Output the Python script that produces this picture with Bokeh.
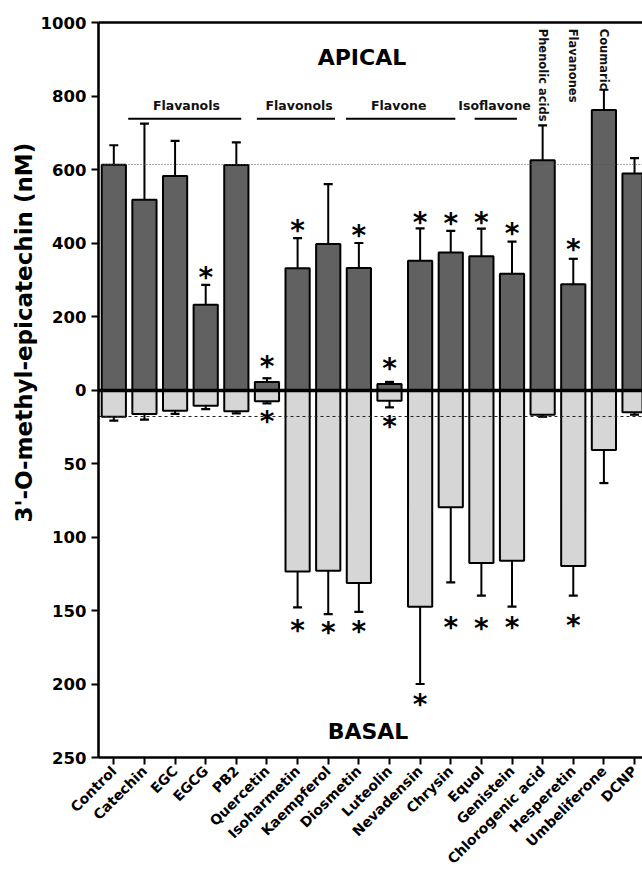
from math import pi
from bokeh.plotting import figure
from bokeh.models import Range1d, FixedTicker, Title, LinearAxis
from bokeh.core.properties import value
from bokeh.embed import file_html
from bokeh.resources import INLINE

# ---------------- data ----------------
categories = ["Control", "Catechin", "EGC", "EGCG", "PB2", "Quercetin", "Isoharmetin",
              "Kaempferol", "Diosmetin", "Luteolin", "Nevadensin", "Chrysin", "Equol",
              "Genistein", "Chlorogenic acid", "Hesperetin", "Umbeliferone", "DCNP"]
apical = [613, 518, 582, 232, 612, 22, 331, 397, 332, 16, 352, 374, 364, 316, 625, 288, 762, 589]
apical_err = [53, 207, 96, 54, 62, 10, 82, 163, 68, 6, 88, 59, 75, 88, 95, 69, 55, 42]
basal = [18.2, 16.3, 14.1, 10.7, 14.5, 7.7, 123.4, 122.9, 131.3, 7.3, 147.4, 79.8, 117.7,
         116.1, 16.8, 119.7, 40.8, 15.2]
basal_err = [2.7, 3.9, 2.2, 2.3, 1.4, 1.4, 24.5, 29.5, 19.7, 4.5, 52.6, 51.1, 22.2, 31.3,
             1.4, 20.2, 22.5, 1.6]

apical_star_cats = ["EGCG", "Quercetin", "Isoharmetin", "Diosmetin", "Luteolin", "Nevadensin",
                    "Chrysin", "Equol", "Genistein", "Hesperetin"]
apical_star_y = [314, 71, 442, 429, 66, 465, 461, 465, 435, 390]
basal_star_cats = ["Quercetin", "Isoharmetin", "Kaempferol", "Diosmetin", "Luteolin",
                   "Nevadensin", "Chrysin", "Equol", "Genistein", "Hesperetin"]
basal_star_y = [19.7, 161.5, 162.6, 162, 23, 212, 159.2, 160.3, 159.7, 158]

group_names = ["Flavanols", "Flavonols", "Flavone", "Isoflavone"]
group_start = [0.97, 5.17, 8.08, 12.28]
group_end = [4.66, 7.72, 11.65, 13.66]
group_label_x = [2.87, 6.55, 9.8, 12.93]

vertical_groups = ["Phenolic acids", "Flavanones", "Coumaric"]
vertical_group_cats = ["Chlorogenic acid", "Hesperetin", "Umbeliferone"]

apical_ticks = [0, 200, 400, 600, 800, 1000]
basal_ticks = [50, 100, 150, 200, 250]
APICAL_MAX = 1000
BASAL_MAX = 250

# ---------------- style ----------------
FONT = "DejaVu Sans"
APICAL_FILL = "#616161"
BASAL_FILL = "#d6d6d6"
BAR_W = 0.79
GROUP_LINE_Y = 738
GROUP_TEXT_Y = 773
VERT_TEXT_Y = 983
STAR_SIZE = 28

xs = [i + 0.5 for i in range(len(categories))]
pos = dict(zip(categories, xs))
ratio = APICAL_MAX / BASAL_MAX

p = figure(width=642, height=876, x_range=Range1d(0, 17.76),
           y_range=Range1d(-APICAL_MAX, APICAL_MAX),
           output_backend="svg", toolbar_location=None,
           min_border_left=98, min_border_right=0, min_border_top=22, min_border_bottom=119)
p.extra_y_ranges = {"basal": Range1d(BASAL_MAX, -BASAL_MAX)}
p.outline_line_color = None
p.grid.visible = False

# bars
p.vbar(x=xs, top=apical, bottom=0, width=BAR_W, fill_color=APICAL_FILL,
       line_color="black", line_width=2)
p.vbar(x=xs, top=basal, bottom=0, width=BAR_W, fill_color=BASAL_FILL,
       line_color="black", line_width=2, y_range_name="basal")

# error bars (one-sided)
a_hi = [v + e for v, e in zip(apical, apical_err)]
b_hi = [v + e for v, e in zip(basal, basal_err)]
p.segment(x0=xs, y0=apical, x1=xs, y1=a_hi, line_color="black", line_width=2)
p.scatter(x=xs, y=a_hi, marker="dash", size=9, line_color="black", line_width=2.2)
p.segment(x0=xs, y0=basal, x1=xs, y1=b_hi, line_color="black", line_width=2,
          y_range_name="basal")
p.scatter(x=xs, y=b_hi, marker="dash", size=9, line_color="black", line_width=2.2,
          y_range_name="basal")

# reference lines
p.hspan(y=[apical[0]], line_color="#555555", line_width=1, line_dash="1 2")
p.hspan(y=[basal[0]], line_color="#222222", line_width=1.2, line_dash="3 3",
        y_range_name="basal")
p.hspan(y=[0], line_color="black", line_width=3.5)

# stars
p.text(x=[pos[c] for c in apical_star_cats], y=apical_star_y, text=["*"] * len(apical_star_cats),
       text_font=value(FONT), text_font_style="bold", text_font_size=f"{STAR_SIZE}px",
       text_align="center", text_baseline="alphabetic", y_offset=3, text_color="black")
p.text(x=[pos[c] for c in basal_star_cats], y=basal_star_y, text=["*"] * len(basal_star_cats),
       text_font=value(FONT), text_font_style="bold", text_font_size=f"{STAR_SIZE}px",
       text_align="center", text_baseline="alphabetic", y_offset=3, text_color="black",
       y_range_name="basal")

# group annotations
p.segment(x0=group_start, y0=[GROUP_LINE_Y] * len(group_names), x1=group_end,
          y1=[GROUP_LINE_Y] * len(group_names), line_color="black", line_width=2)
p.text(x=group_label_x, y=[GROUP_TEXT_Y] * len(group_names), text=group_names,
       text_font=value(FONT), text_font_style="bold", text_font_size="12.5px",
       text_align="center", text_baseline="middle", text_color="#111111")
p.text(x=[pos[c] for c in vertical_group_cats], y=[VERT_TEXT_Y] * len(vertical_groups),
       text=vertical_groups, angle=-pi / 2, text_font=value(FONT), text_font_style="bold",
       text_font_size="11.5px", text_align="left", text_baseline="middle", text_color="#111111")

p.text(x=[8.6], y=[905], text=["APICAL"], text_font=value(FONT), text_font_style="bold",
       text_font_size="22px", text_align="center", text_baseline="middle", text_color="black")
p.text(x=[8.8], y=[232], text=["BASAL"], text_font=value(FONT), text_font_style="bold",
       text_font_size="22px", text_align="center", text_baseline="middle", text_color="black",
       y_range_name="basal")

# axes
for ax in p.axis:
    ax.axis_line_width = 2.6
    ax.axis_line_color = "black"
    ax.major_tick_line_width = 2
    ax.major_tick_line_color = "black"
    ax.major_tick_in = 0
    ax.major_tick_out = 7
    ax.minor_tick_line_color = None
    ax.major_label_text_font = FONT
    ax.major_label_text_font_style = "bold"
    ax.major_label_text_color = "black"

p.xaxis.ticker = FixedTicker(ticks=xs)
p.xaxis.major_label_overrides = {x: c for x, c in zip(xs, categories)}
p.xaxis.major_label_orientation = pi / 4
p.xaxis.major_label_text_font_size = "14px"
p.xaxis.major_label_standoff = 4

y_pos = sorted(apical_ticks + [int(-b * ratio) for b in basal_ticks])
p.yaxis.ticker = FixedTicker(ticks=y_pos)
p.yaxis.major_label_overrides = {int(-b * ratio): str(b) for b in basal_ticks}
p.yaxis.major_label_text_font_size = "16.5px"
p.yaxis.major_label_standoff = 5

top_axis = LinearAxis(ticker=FixedTicker(ticks=[]), axis_line_width=2.6, axis_line_color="black",
                      major_tick_line_color=None, minor_tick_line_color=None,
                      major_label_text_color=None, major_label_text_font_size="1px")
p.add_layout(top_axis, "above")

p.add_layout(Title(text="3'-O-methyl-epicatechin (nM)", align="left", offset=235,
                   standoff=2, text_font=FONT, text_font_style="bold",
                   text_font_size="23px", text_color="black"), "left")

open("out.html", "w").write(file_html(p, INLINE))
